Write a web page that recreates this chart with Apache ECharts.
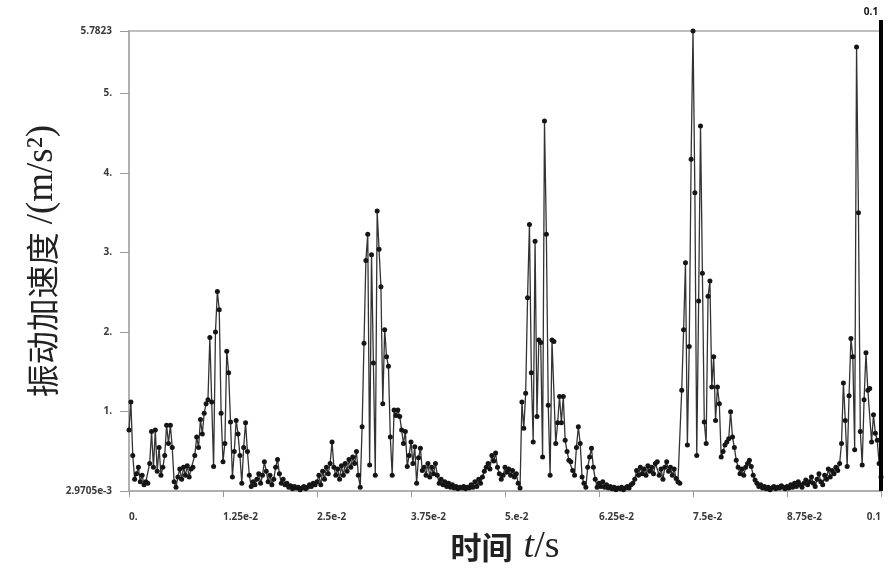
<!DOCTYPE html>
<html><head><meta charset="utf-8">
<script src="https://cdn.jsdelivr.net/npm/echarts@6/dist/echarts.min.js"></script>
<style>html,body{margin:0;padding:0;background:#fff}#c{width:895px;height:573px}</style>
</head><body><div id="c"></div>
<script>
// sampling step of the time axis (s)
const timeStep = 0.00025;
// vibration acceleration (m/s^2)
const accel = [
0.77,1.12,0.45,0.15,0.22,0.3,0.12,0.2,0.08,0.12,
0.1,0.35,0.75,0.3,0.77,0.25,0.55,0.2,0.3,0.45,
0.83,0.6,0.83,0.55,0.12,0.05,0.18,0.28,0.15,0.3,
0.2,0.32,0.18,0.28,0.3,0.45,0.68,0.55,0.9,0.72,
0.98,1.1,1.15,1.93,1.12,0.31,2.0,2.51,2.28,0.98,
0.37,0.6,1.76,1.49,0.87,0.18,0.5,0.89,0.72,0.45,
0.1,0.55,0.86,0.5,0.2,0.06,0.12,0.08,0.15,0.22,
0.1,0.2,0.37,0.25,0.12,0.2,0.08,0.15,0.3,0.4,
0.22,0.1,0.15,0.08,0.1,0.05,0.07,0.03,0.06,0.04,
0.05,0.02,0.04,0.06,0.03,0.05,0.08,0.06,0.1,0.08,
0.12,0.2,0.08,0.25,0.15,0.3,0.22,0.35,0.62,0.3,
0.2,0.28,0.15,0.32,0.2,0.35,0.25,0.4,0.3,0.43,
0.35,0.5,0.2,0.05,0.81,1.86,2.9,3.23,0.33,2.97,
1.61,0.2,3.52,3.04,2.57,1.1,2.03,1.69,1.57,0.68,
0.2,1.02,0.95,1.02,0.94,0.77,0.6,0.75,0.31,0.45,
0.62,0.35,0.56,0.1,0.42,0.54,0.26,0.3,0.2,0.35,
0.18,0.3,0.22,0.35,0.2,0.1,0.15,0.08,0.12,0.06,
0.1,0.05,0.08,0.04,0.06,0.03,0.05,0.04,0.06,0.03,
0.05,0.04,0.08,0.05,0.12,0.06,0.15,0.1,0.18,0.25,
0.3,0.35,0.28,0.45,0.38,0.48,0.3,0.22,0.15,0.2,
0.3,0.24,0.28,0.2,0.26,0.18,0.22,0.1,0.04,1.12,
0.79,1.23,2.43,3.35,1.49,0.62,3.14,0.94,1.9,1.87,
0.43,4.65,3.23,1.08,0.2,1.9,1.88,0.6,0.86,1.19,
0.86,1.19,0.64,0.5,0.39,0.37,0.26,0.2,0.55,0.81,
0.6,0.18,0.1,0.05,0.3,0.43,0.54,0.3,0.15,0.05,
0.1,0.06,0.12,0.05,0.08,0.04,0.06,0.03,0.05,0.02,
0.04,0.03,0.05,0.02,0.04,0.06,0.04,0.08,0.1,0.15,
0.26,0.2,0.3,0.22,0.28,0.2,0.32,0.25,0.3,0.22,
0.35,0.37,0.2,0.28,0.15,0.3,0.37,0.25,0.3,0.2,
0.28,0.16,0.12,0.1,1.27,2.03,2.87,0.58,1.82,4.17,
5.7823,3.75,0.45,2.39,4.59,2.74,0.87,0.6,2.45,2.64,
1.31,1.69,0.89,1.31,1.1,0.43,0.5,0.58,0.62,0.66,
1.0,0.68,0.55,0.39,0.3,0.22,0.28,0.2,0.3,0.35,
0.39,0.31,0.2,0.14,0.1,0.06,0.08,0.04,0.06,0.03,
0.05,0.02,0.04,0.06,0.03,0.05,0.04,0.07,0.05,0.03,
0.06,0.04,0.08,0.05,0.1,0.06,0.12,0.08,0.05,0.1,
0.14,0.08,0.12,0.18,0.1,0.06,0.15,0.22,0.12,0.08,
0.2,0.15,0.28,0.18,0.26,0.22,0.3,0.26,0.35,0.6,
1.36,0.89,0.31,1.2,1.92,1.69,0.52,5.58,3.5,0.75,
0.33,1.15,1.74,1.27,1.29,0.62,0.96,0.73,0.64,0.35,
0.18
];
const xTickValues = [0, 0.0125, 0.025, 0.0375, 0.05, 0.0625, 0.075, 0.0875, 0.1];
const xTickLabels = ['0.', '1.25e-2', '2.5e-2', '3.75e-2', '5.e-2', '6.25e-2', '7.5e-2', '8.75e-2', '0.1'];
const yTickValues = [0.0029705, 1, 2, 3, 4, 5, 5.7823];
const yTickLabels = ['2.9705e-3', '1.', '2.', '3.', '4.', '5.', '5.7823'];
const markerTime = 0.1;
const markerLabel = '0.1';

const points = accel.map((v, i) => [+(i * timeStep).toFixed(7), v]);
function pick(values, labels) {
  return function (v) {
    let b = 0;
    for (let k = 1; k < values.length; k++) if (Math.abs(values[k] - v) < Math.abs(values[b] - v)) b = k;
    return labels[b];
  };
}
const axisGray = '#ababab';
const tickFont = { color: '#3a3a3a', fontSize: 10, fontWeight: 'bold', fontFamily: 'Open Sans' };

const chart = echarts.init(document.getElementById('c'), null, { renderer: 'canvas' });
chart.setOption({
  animation: false,
  backgroundColor: '#fff',
  grid: [
    { left: 129, right: 14, top: 31, bottom: 82, show: true, borderColor: axisGray, borderWidth: 1.5, backgroundColor: 'transparent' },
    { left: 129, right: 14, top: 20, bottom: 82 }
  ],
  xAxis: [{
    gridIndex: 0, type: 'value', min: xTickValues[0], max: xTickValues[xTickValues.length - 1],
    axisLine: { show: true, lineStyle: { color: axisGray, width: 1.5 } },
    axisTick: { show: true, customValues: xTickValues, length: 6, lineStyle: { color: '#999' } },
    axisLabel: Object.assign({ customValues: xTickValues, formatter: pick(xTickValues, xTickLabels), margin: 21, align: 'left', alignMaxLabel: 'right' }, tickFont),
    splitLine: { show: false },
    name: '{cn|时间}{sp|  }{it|t}{en|/s}', nameLocation: 'middle', nameGap: 37, nameMoveOverlap: false,
    nameTextStyle: {
      rich: {
        cn: { fontFamily: 'Noto Sans CJK SC', fontWeight: 'bold', fontSize: 31, color: '#222' },
        sp: { fontSize: 20 },
        it: { fontFamily: 'Liberation Serif', fontStyle: 'italic', fontSize: 38, color: '#222' },
        en: { fontFamily: 'Liberation Serif', fontSize: 38, color: '#222' }
      }
    }
  }, {
    gridIndex: 1, type: 'value', min: xTickValues[0], max: xTickValues[xTickValues.length - 1], show: false
  }],
  yAxis: [{
    gridIndex: 0, type: 'value', min: yTickValues[0], max: yTickValues[yTickValues.length - 1],
    axisLine: { show: true, lineStyle: { color: axisGray, width: 1.5 } },
    axisTick: { show: true, customValues: yTickValues, length: 9, lineStyle: { color: '#999' } },
    axisLabel: Object.assign({ customValues: yTickValues, formatter: pick(yTickValues, yTickLabels), margin: 17 }, tickFont),
    splitLine: { show: false },
    name: '{cn|振动加速度}{sp|  }{en|/(m/s²)}', nameLocation: 'middle', nameGap: 68, nameMoveOverlap: false,
    nameTextStyle: {
      rich: {
        cn: { fontFamily: 'Noto Sans CJK SC', fontSize: 33, color: '#222' },
        sp: { fontSize: 14 },
        en: { fontFamily: 'Liberation Serif', fontSize: 37, color: '#222' }
      }
    }
  }, {
    gridIndex: 1, type: 'value', min: 0, max: 1, show: false
  }],
  series: [{
    type: 'line', xAxisIndex: 0, yAxisIndex: 0, data: points,
    symbol: 'circle', symbolSize: 5, showAllSymbol: true,
    itemStyle: { color: '#151515' },
    lineStyle: { color: '#333', width: 1.3 }
  }, {
    type: 'line', xAxisIndex: 1, yAxisIndex: 1, data: [],
    markLine: {
      silent: true, symbol: 'none',
      lineStyle: { color: '#000', width: 4, type: 'solid' },
      label: { show: true, position: 'end', formatter: markerLabel, color: '#111', fontSize: 10, fontWeight: 'bold', fontFamily: 'Open Sans', distance: 3, padding: [0, 20, 0, 0] },
      data: [{ xAxis: markerTime }]
    }
  }]
});
</script></body></html>
